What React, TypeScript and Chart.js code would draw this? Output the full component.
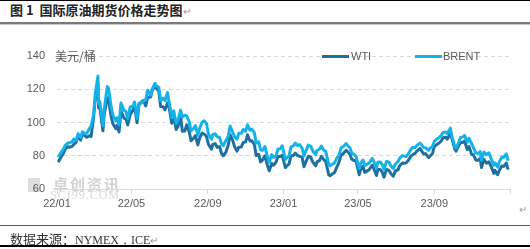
import React, { useEffect, useRef } from "react";
import { Chart, registerables } from "chart.js";

Chart.register(...registerables);

// ---------- data ----------
const seriesNames = ["WTI", "BRENT"];
const seriesColors = ["#1F6FA0", "#14B2EA"];

const xTickDates = ["2022-01-01", "2022-05-01", "2022-09-01", "2023-01-01", "2023-05-01", "2023-09-01", "2024-01-01"];
const xTickLabels = ["22/01", "22/05", "22/09", "23/01", "23/05", "23/09", ""];
const yTicks = [60, 80, 100, 120, 140];

const dates2022 = [
  "01-03","01-07","01-11","01-14","01-18","01-21","01-25","01-28","02-01","02-04","02-08","02-11","02-15","02-18","02-23","02-25",
  "03-01","03-04","03-08","03-09","03-11","03-16","03-18","03-23","03-25","03-29","04-01","04-06","04-08","04-11","04-14","04-19",
  "04-22","04-25","04-29","05-04","05-06","05-10","05-13","05-17","05-20","05-24","05-27","06-01","06-03","06-08","06-10","06-14",
  "06-17","06-21","06-24","06-28","07-01","07-05","07-08","07-12","07-15","07-19","07-22","07-26","07-29","08-02","08-05","08-09",
  "08-12","08-16","08-19","08-23","08-26","08-30","09-02","09-07","09-09","09-13","09-16","09-20","09-23","09-26","09-30","10-04",
  "10-07","10-11","10-14","10-18","10-21","10-25","10-28","11-01","11-04","11-08","11-11","11-15","11-18","11-22","11-25","11-28",
  "12-02","12-06","12-09","12-13","12-16","12-20","12-23","12-27","12-30"
];
const wti2022 = [
  76.1,78.9,81.2,83.8,85.4,85.1,85.6,86.8,88.2,92.3,89.4,93.1,92.1,91.1,92.1,91.6,
  103.4,115.7,123.7,108.7,109.3,95.0,104.7,114.9,113.9,104.2,99.3,96.2,98.3,94.3,106.9,102.6,
  102.1,98.5,104.7,107.8,109.8,99.8,110.5,112.4,113.2,110.0,115.1,115.3,118.9,122.1,120.7,118.9,
  109.6,109.5,107.6,111.8,108.4,99.5,104.8,95.8,97.6,104.2,94.7,94.9,98.6,94.4,89.0,90.5,
  92.1,86.5,90.8,93.7,93.1,91.6,86.9,84.0,86.8,87.3,85.1,85.5,81.5,80.0,82.0,86.5,
  92.6,89.4,85.6,82.8,85.1,85.3,87.9,88.4,92.6,88.9,89.0,86.9,80.1,80.9,76.3,77.2,
  80.0,74.3,71.0,75.4,74.3,76.2,79.6,79.5,80.3
];
const brent2022 = [
  79.0,81.8,83.7,86.1,87.5,87.9,88.2,90.0,89.2,93.3,91.0,94.4,93.3,93.5,96.8,97.9,
  105.0,118.1,128.0,111.1,112.7,98.0,107.9,121.6,120.7,110.2,104.4,101.1,102.8,98.5,111.7,107.3,
  106.7,102.3,109.3,110.1,112.4,102.5,111.6,111.9,112.6,113.6,119.4,116.3,119.7,123.6,122.0,121.2,
  113.1,114.7,113.1,118.0,111.6,102.8,107.0,99.5,101.2,107.4,103.2,104.4,104.0,100.5,94.9,96.3,
  98.2,92.3,96.7,100.2,101.0,99.3,93.0,90.0,92.8,93.2,91.4,91.0,87.5,86.0,89.0,91.8,
  97.9,94.3,91.6,90.0,93.5,93.5,95.8,94.7,98.6,95.4,96.0,93.9,87.6,88.4,83.6,83.2,
  85.6,79.4,76.1,80.7,79.0,80.0,83.9,84.3,85.9
];

const dates2023 = [
  "01-04","01-06","01-10","01-13","01-17","01-20","01-24","01-27","01-31","02-03","02-07","02-10","02-14","02-17","02-22","02-24",
  "02-28","03-03","03-07","03-10","03-15","03-17","03-20","03-24","03-28","03-31","04-04","04-06","04-12","04-14","04-18","04-21",
  "04-25","04-28","05-03","05-05","05-09","05-12","05-16","05-19","05-24","05-26","05-31","06-02","06-06","06-09","06-12","06-16",
  "06-20","06-23","06-27","06-30","07-05","07-07","07-12","07-14","07-18","07-21","07-25","07-28","08-01","08-04","08-09","08-11",
  "08-15","08-18","08-23","08-25","08-29","09-01","09-05","09-08","09-12","09-15","09-19","09-22","09-27","09-29","10-04","10-06",
  "10-10","10-13","10-18","10-20","10-24","10-27","10-31","11-03","11-07","11-10","11-14","11-16","11-20","11-24","11-28","12-01",
  "12-06","12-08","12-12","12-15","12-19","12-22","12-26","12-29"
];
const wti2023 = [
  72.8,73.8,75.1,79.9,80.2,81.6,80.1,79.7,79.0,73.4,77.1,79.7,79.1,76.3,73.9,76.3,
  77.1,79.7,77.6,76.7,68.5,68.0,68.8,69.8,73.2,75.7,80.7,80.7,83.3,82.5,80.9,77.9,
  77.1,76.8,68.6,71.3,73.7,70.0,70.9,71.6,74.3,72.7,68.1,71.7,71.7,70.2,67.1,71.8,
  71.2,69.2,67.7,70.6,71.8,73.9,75.8,75.4,75.8,77.1,79.6,80.6,81.4,82.8,84.4,83.2,
  81.0,81.3,78.9,79.8,81.2,85.6,86.7,87.5,88.8,90.8,91.2,90.0,93.7,90.8,84.2,82.8,
  86.0,87.7,88.3,88.8,83.7,85.5,81.0,80.5,77.4,77.2,78.3,72.9,77.8,75.5,76.4,74.1,
  69.4,71.2,68.6,71.4,73.9,73.6,75.6,71.7
];
const brent2023 = [
  77.8,78.6,80.1,85.3,85.9,87.6,86.1,86.7,84.5,79.9,83.7,86.4,85.6,83.0,80.6,83.2,
  83.9,85.8,83.3,82.8,74.5,74.0,74.8,75.5,78.7,79.8,84.9,85.1,87.3,86.3,84.8,81.7,
  80.8,79.5,72.3,75.3,77.4,74.2,75.0,75.6,78.4,77.0,72.7,76.1,76.3,74.8,71.8,76.6,
  76.1,73.9,72.3,74.9,76.7,78.5,80.1,79.9,79.6,81.1,83.6,85.0,85.0,86.2,87.6,86.8,
  84.9,84.8,83.2,84.5,85.5,88.6,90.0,90.7,92.1,93.9,94.3,93.3,96.6,92.2,85.8,84.6,
  87.7,90.9,91.5,92.2,88.1,90.5,87.4,84.9,81.6,81.4,82.5,77.4,82.3,80.6,81.7,78.9,
  74.3,75.8,73.2,76.6,79.2,79.1,81.1,77.0
];

// ---------- helpers ----------
const BASE = Date.UTC(2022, 0, 1);
function dayIndex(iso: string): number {
  const [y, m, d] = iso.split("-").map(Number);
  return (Date.UTC(y, m - 1, d) - BASE) / 86400000;
}
function buildPoints(year: number, dates: string[], values: number[]) {
  return dates.map((md, i) => ({ x: dayIndex(`${year}-${md}`), y: values[i] }));
}
const xTickDays = xTickDates.map(dayIndex);

const FONT_LATIN = "'Liberation Sans', Arial, sans-serif";
const FONT_CJK = "'Noto Sans CJK SC', 'Noto Sans', sans-serif";
const TEXT_GRAY = "#595959";

const overlayPlugin = {
  id: "overlay",
  beforeDraw(chart: any) {
    const ctx = chart.ctx;
    ctx.save();
    // watermark
    ctx.fillStyle = "rgba(160,160,160,0.35)";
    ctx.fillRect(28, 178, 12, 14);
    ctx.fillStyle = "#d2d2d2";
    ctx.font = `bold 15px ${FONT_CJK}`;
    ctx.textBaseline = "alphabetic";
    ctx.textAlign = "left";
    (ctx as any).letterSpacing = "2px";
    ctx.fillText("卓创资讯", 53, 190);
    ctx.fillStyle = "#dadada";
    ctx.font = `12px 'Liberation Serif', serif`;
    (ctx as any).letterSpacing = "1px";
    ctx.fillText("SCI99.COM", 50, 199);
    (ctx as any).letterSpacing = "0px";
    ctx.restore();
  },
  afterDraw(chart: any) {
    const ctx = chart.ctx;
    const area = chart.chartArea;
    ctx.save();
    // unit label
    ctx.fillStyle = TEXT_GRAY;
    ctx.font = `12px ${FONT_CJK}`;
    ctx.textBaseline = "middle";
    ctx.textAlign = "left";
    ctx.fillText("美元/桶", 55, area.top + 0.5);
    // legend
    const items = [
      { x1: 322, x2: 349, tx: 351 },
      { x1: 415, x2: 442, tx: 443 },
    ];
    ctx.font = `11px ${FONT_LATIN}`;
    chart.data.datasets.forEach((ds: any, i: number) => {
      const it = items[i];
      ctx.strokeStyle = ds.borderColor;
      ctx.lineWidth = 3;
      ctx.beginPath();
      ctx.moveTo(it.x1, area.top + 0.5);
      ctx.lineTo(it.x2, area.top + 0.5);
      ctx.stroke();
      ctx.fillStyle = TEXT_GRAY;
      ctx.fillText(ds.label, it.tx, area.top + 0.5);
    });
    ctx.restore();
  },
};

export default function App() {
  const canvasRef = useRef<HTMLCanvasElement | null>(null);

  useEffect(() => {
    document.body.style.margin = "0";
    const canvas = canvasRef.current;
    if (!canvas) return;
    const wti = [...buildPoints(2022, dates2022, wti2022), ...buildPoints(2023, dates2023, wti2023)];
    const brent = [...buildPoints(2022, dates2022, brent2022), ...buildPoints(2023, dates2023, brent2023)];

    const chart = new Chart(canvas, {
      type: "line",
      data: {
        datasets: [
          {
            label: seriesNames[0],
            data: wti,
            borderColor: seriesColors[0],
            backgroundColor: seriesColors[0],
            borderWidth: 3,
            pointRadius: 0,
            tension: 0,
            order: 1,
            borderJoinStyle: "round",
          },
          {
            label: seriesNames[1],
            data: brent,
            borderColor: seriesColors[1],
            backgroundColor: seriesColors[1],
            borderWidth: 3,
            pointRadius: 0,
            tension: 0,
            order: 0,
            borderJoinStyle: "round",
          },
        ],
      },
      options: {
        animation: false,
        responsive: false,
        devicePixelRatio: 1,
        layout: { padding: { left: 0, right: 20, top: 56, bottom: 30 } },
        plugins: { legend: { display: false }, tooltip: { enabled: false } },
        scales: {
          x: {
            type: "linear",
            min: 0,
            max: xTickDays[xTickDays.length - 1],
            afterBuildTicks: (scale: any) => {
              scale.ticks = xTickDays.map((v) => ({ value: v }));
            },
            afterFit: (scale: any) => {
              scale.height = 30;
            },
            ticks: {
              autoSkip: false,
              maxRotation: 0,
              padding: 3,
              color: TEXT_GRAY,
              font: { family: FONT_LATIN, size: 11 },
              callback: (_v: any, i: number) => xTickLabels[i],
            },
            grid: {
              drawOnChartArea: false,
              drawTicks: true,
              tickLength: 5,
              color: "#d9d9d9",
            },
            border: { display: true, color: "#d9d9d9", width: 1 },
          },
          y: {
            type: "linear",
            min: yTicks[0],
            max: yTicks[yTicks.length - 1],
            afterBuildTicks: (scale: any) => {
              scale.ticks = yTicks.map((v) => ({ value: v }));
            },
            afterFit: (scale: any) => {
              scale.width = 57;
            },
            ticks: {
              padding: 12,
              color: TEXT_GRAY,
              font: { family: FONT_LATIN, size: 11 },
            },
            grid: { drawTicks: false, color: "#d9d9d9", lineWidth: 1 },
            border: { display: false, dash: [4, 3] },
          },
        },
      },
      plugins: [overlayPlugin],
    } as any);
    return () => chart.destroy();
  }, []);

  return (
    <div style={{ position: "relative", width: 530, height: 249, background: "#fff", overflow: "hidden" }}>
      <div style={{ position: "absolute", left: 0, top: 0, width: 530, height: 1, background: "#000" }} />
      <div
        style={{
          position: "absolute",
          left: 10,
          top: 2,
          font: `bold 13px ${FONT_CJK}`,
          color: "#222",
          whiteSpace: "pre",
          lineHeight: "16px",
        }}
      >
        {"图 1  国际原油期货价格走势图"}
        <span style={{ fontWeight: "normal", color: "#999", fontSize: 10 }}>↵</span>
      </div>
      <div style={{ position: "absolute", left: 0, top: 22, width: 530, height: 2, background: "#7a7a7a" }} />
      <div style={{ position: "absolute", left: 0, top: 24, width: 530, height: 1, background: "#c8c8c8" }} />
      <canvas ref={canvasRef} width={530} height={249} style={{ position: "absolute", left: 0, top: 0 }} />
      <div style={{ position: "absolute", left: 519, top: 204, color: "#999", fontSize: 10, lineHeight: "12px" }}>↵</div>
      <div style={{ position: "absolute", left: 0, top: 225, width: 530, height: 1, background: "#595959" }} />
      <div
        style={{
          position: "absolute",
          left: 10,
          top: 229,
          whiteSpace: "nowrap",
          color: "#333",
          lineHeight: "16px",
        }}
      >
        <span style={{ font: `13px ${FONT_CJK}` }}>数据来源：</span>
        <span style={{ font: `12px 'Liberation Serif', serif` }}>NYMEX，ICE</span>
        <span style={{ color: "#999", fontSize: 10 }}>↵</span>
      </div>
      <div style={{ position: "absolute", left: 0, top: 245, width: 530, height: 2, background: "#000" }} />
    </div>
  );
}
